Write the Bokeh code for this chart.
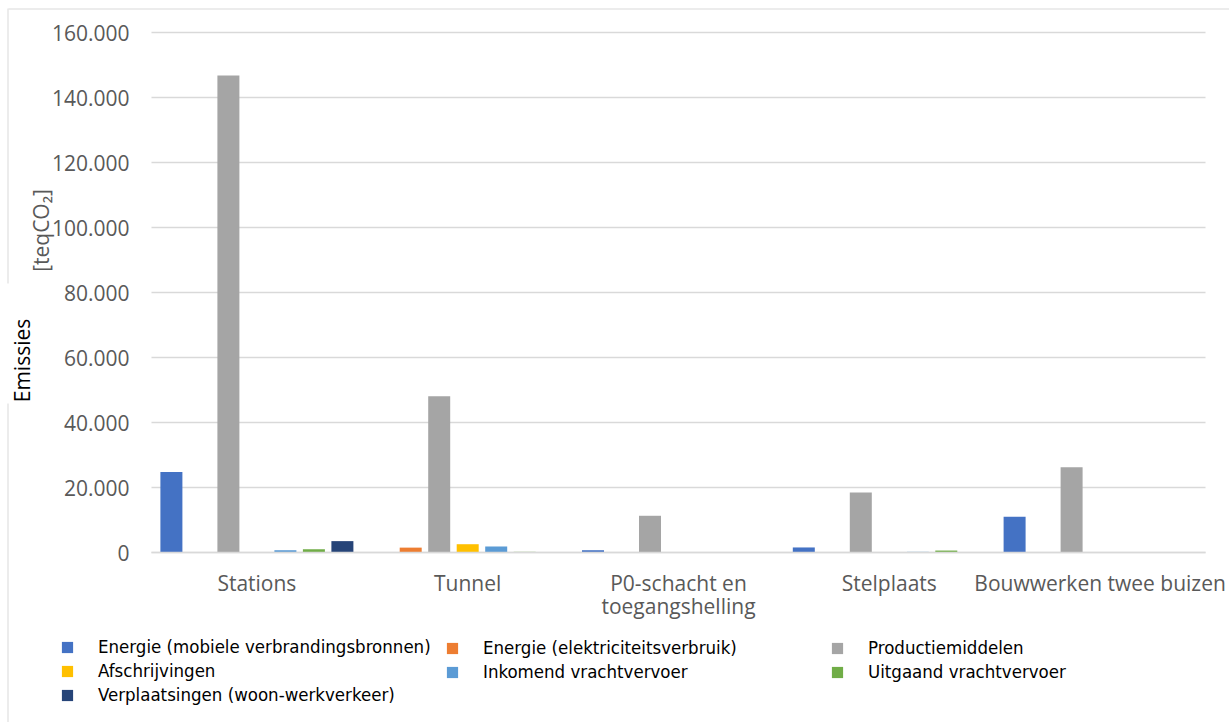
from bokeh.plotting import figure
from bokeh.models import (ColumnDataSource, Range1d, FixedTicker, LinearAxis,
                          Legend, LegendItem, Label, BoxAnnotation)
from bokeh.transform import dodge
from bokeh.embed import file_html
from bokeh.resources import INLINE
import math

# --- data (teqCO2) -------------------------------------------------------
categories = ["Stations", "Tunnel", "P0-schacht en\ntoegangshelling",
              "Stelplaats", "Bouwwerken twee buizen"]

energie_mobiel = [24800, 0, 700, 1550, 11000]
energie_elektriciteit = [0, 1500, 0, 0, 0]
productiemiddelen = [146800, 48100, 11300, 18500, 26200]
afschrijvingen = [0, 2550, 0, 0, 0]
inkomend_vracht = [700, 1850, 0, 200, 0]
uitgaand_vracht = [1000, 200, 0, 600, 0]
verplaatsingen = [3500, 0, 0, 0, 0]

series_names = [
    "Energie (mobiele verbrandingsbronnen)",
    "Energie (elektriciteitsverbruik)",
    "Productiemiddelen",
    "Afschrijvingen",
    "Inkomend vrachtvervoer",
    "Uitgaand vrachtvervoer",
    "Verplaatsingen (woon-werkverkeer)",
]
series_values = [energie_mobiel, energie_elektriciteit, productiemiddelen,
                 afschrijvingen, inkomend_vracht, uitgaand_vracht, verplaatsingen]
series_colors = ["#4472C4", "#ED7D31", "#A5A5A5", "#FFC000",
                 "#5B9BD5", "#70AD47", "#264478"]

y_ticks = [0, 20000, 40000, 60000, 80000, 100000, 120000, 140000, 160000]

# --- layout (canvas pixels) ----------------------------------------------
W, H = 1229, 722
PL, PR, PT, PB = 151, 1205, 32, 552      # plot area inside the chart
n_cat = len(categories)
cat_px = (PR - PL) / n_cat
upp = y_ticks[-1] / (PB - PT)           # data units per pixel

x_centers = [k + 0.5 for k in range(n_cat)]
data = {"xc": x_centers}
keys = []
for i, vals in enumerate(series_values):
    k = f"s{i}"
    keys.append(k)
    data[k] = vals
src = ColumnDataSource(data)

p = figure(width=W, height=H,
           x_range=Range1d(-PL / cat_px, n_cat + (W - PR) / cat_px),
           y_range=Range1d(-(H - PB) * upp, y_ticks[-1] + PT * upp),
           x_axis_type=None, y_axis_type=None,
           output_backend="svg", toolbar_location=None, min_border=0,
           background_fill_color="white", border_fill_color="white",
           outline_line_color=None)

# horizontal gridlines across the plot area
p.segment(x0=0, x1=n_cat, y0=y_ticks, y1=y_ticks,
          line_color="#d9d9d9", line_width=1.3)

# value axis
yax = LinearAxis(fixed_location=0, ticker=FixedTicker(ticks=y_ticks),
                 major_label_overrides={t: f"{t:,}".replace(",", ".") for t in y_ticks},
                 axis_line_color=None, major_tick_line_color=None,
                 minor_tick_line_color=None, major_tick_in=0, major_tick_out=0,
                 major_label_standoff=22, major_label_text_font="Open Sans",
                 major_label_text_font_size="21px",
                 major_label_text_color="#595959")
p.add_layout(yax, "left")

# category axis (second line of wrapped labels on its own axis)
first_lines = {x: c.split("\n")[0] for x, c in zip(x_centers, categories)}
second_lines = {x: c.split("\n")[1] for x, c in zip(x_centers, categories) if "\n" in c}
xax = LinearAxis(fixed_location=0, bounds=(0, n_cat),
                 ticker=FixedTicker(ticks=list(first_lines)),
                 major_label_overrides=first_lines,
                 axis_line_color="#d9d9d9", axis_line_width=1.5,
                 major_tick_line_color=None, minor_tick_line_color=None,
                 major_tick_in=0, major_tick_out=0, major_label_standoff=16,
                 major_label_text_font="Open Sans",
                 major_label_text_font_size="21px",
                 major_label_text_color="#595959")
p.add_layout(xax, "below")
xax2 = LinearAxis(fixed_location=0, bounds=(0, n_cat),
                  ticker=FixedTicker(ticks=list(second_lines)),
                  major_label_overrides=second_lines,
                  axis_line_color=None,
                  major_tick_line_color=None, minor_tick_line_color=None,
                  major_tick_in=0, major_tick_out=0, major_label_standoff=39,
                  major_label_text_font="Open Sans",
                  major_label_text_font_size="21px",
                  major_label_text_color="#595959")
p.add_layout(xax2, "below")

# clustered bars
bar_w = 22 / cat_px
step = 28.5 / cat_px
mid = (len(keys) - 1) / 2
renderers = []
for i, (k, col) in enumerate(zip(keys, series_colors)):
    r = p.vbar(x=dodge("xc", (i - mid) * step), top=k, width=bar_w,
               source=src, fill_color=col, line_color=None)
    renderers.append(r)


def sx(x):
    return x


def sy(y):
    return H - y


# legend: three columns, filled row by row
legend_font = "'DejaVu Sans Condensed', 'DejaVu Sans', sans-serif"
item_h, item_gap = 20, 3
legend_top = 639
for c, x0 in enumerate([60, 445, 830]):
    idx = list(range(c, len(series_names), 3))
    items = [LegendItem(label=series_names[j], renderers=[renderers[j]]) for j in idx]
    m = len(items)
    height = m * item_h + (m - 1) * item_gap
    leg = Legend(items=items, location=(sx(x0), sy(legend_top + height)),
                 orientation="vertical", padding=0, margin=0, spacing=item_gap,
                 glyph_width=14, glyph_height=14, label_standoff=24,
                 label_height=item_h, label_text_font=legend_font,
                 label_text_font_size="18.5px", label_text_color="#000000",
                 border_line_alpha=0, background_fill_alpha=0)
    p.add_layout(leg, "center")

# y axis title
p.add_layout(Label(x=sx(40), y=sy(230), x_units="screen", y_units="screen",
                   text="[teqCO\u2082]", angle=math.pi / 2, text_align="center",
                   text_baseline="middle", text_font="Open Sans",
                   text_font_size="21px", text_color="#595959"))
p.add_layout(Label(x=sx(21), y=sy(360), x_units="screen", y_units="screen",
                   text="Emissies", angle=math.pi / 2, text_align="center",
                   text_baseline="middle", text_font="Open Sans",
                   text_font_size="21px", text_color="#000000"))

# outer chart border (top and left edges)
border = "#d9d9d9"
for (l, r_, t, b) in [(8, W + 10, 8, 9), (7, 8, 8, 283), (7, 8, 403, H + 10)]:
    p.add_layout(BoxAnnotation(left=sx(l), right=sx(r_), top=sy(t), bottom=sy(b),
                               left_units="screen", right_units="screen",
                               top_units="screen", bottom_units="screen",
                               fill_color=border, fill_alpha=1, line_alpha=0))

open("out.html", "w").write(file_html(p, INLINE))
